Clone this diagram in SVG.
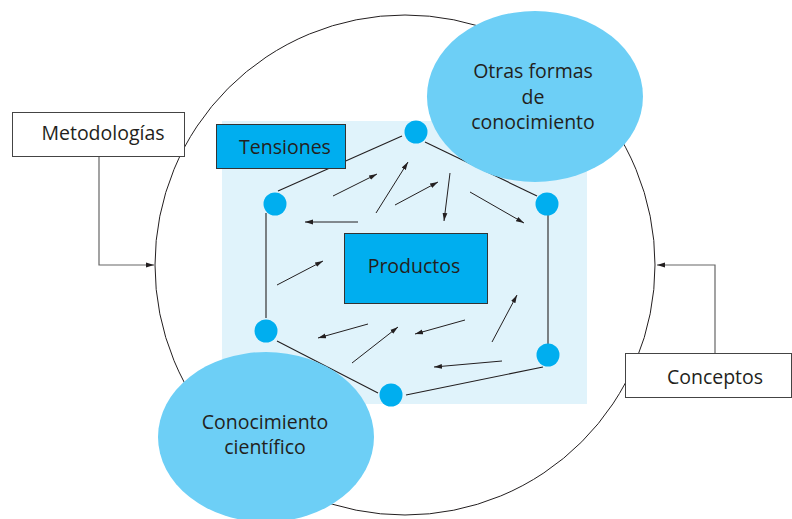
<svg xmlns="http://www.w3.org/2000/svg" width="792" height="519" viewBox="0 0 792 519">
<defs>
<marker id="ah" markerWidth="8" markerHeight="6" refX="8" refY="3" orient="auto" markerUnits="userSpaceOnUse">
<path d="M0,0.6 L8,3 L0,5.4 Z" fill="#231F20"/>
</marker>
</defs>
<style>
text{font-family:"Open Sans","Liberation Sans",sans-serif;font-size:19.5px;fill:#231F20;text-anchor:middle}
.box{fill:#fff;stroke:#444;stroke-width:1}
.bbox{fill:#00AEEF;stroke:#333;stroke-width:1}
.node{fill:#00AEEF}
.ell{fill:#6DCFF6}
.edge{stroke:#231F20;stroke-width:1.1;fill:none}
.arr{stroke:#231F20;stroke-width:1;fill:none;marker-end:url(#ah)}
.conn{stroke:#666;stroke-width:1.2;fill:none;marker-end:url(#ah)}
</style>
<rect width="792" height="519" fill="#fff"/>
<circle cx="405" cy="265" r="250" fill="none" stroke="#231F20" stroke-width="1"/>
<rect x="222" y="121" width="365" height="283" fill="#E0F3FB"/>
<g id="connectors">
<line class="edge" x1="278" y1="191" x2="402" y2="136"/>
<line class="edge" x1="425" y1="142" x2="537" y2="196"/>
<line class="edge" x1="266" y1="213" x2="266" y2="318"/>
<line class="edge" x1="548" y1="214" x2="548" y2="344"/>
<line class="edge" x1="277" y1="341" x2="378" y2="393"/>
<line class="edge" x1="406" y1="395" x2="543" y2="367"/>
<line class="arr" x1="333" y1="196" x2="377" y2="174"/>
<line class="arr" x1="376" y1="213" x2="408" y2="162"/>
<line class="arr" x1="395" y1="205" x2="438" y2="182"/>
<line class="arr" x1="450" y1="173" x2="444" y2="221"/>
<line class="arr" x1="470" y1="192" x2="524" y2="223"/>
<line class="arr" x1="358" y1="222" x2="305" y2="222"/>
<line class="arr" x1="277" y1="285" x2="323" y2="261"/>
<line class="arr" x1="368" y1="324" x2="318" y2="338"/>
<line class="arr" x1="352" y1="363" x2="398" y2="327"/>
<line class="arr" x1="465" y1="320" x2="415" y2="334"/>
<line class="arr" x1="492" y1="342" x2="517" y2="295"/>
<line class="arr" x1="502" y1="361" x2="434" y2="367"/>
<polyline class="conn" points="99,156 99,265 154,265"/>
<polyline class="conn" points="715,353 715,265 657,265"/>
</g>
<g id="otras"><ellipse class="ell" cx="535" cy="96.5" rx="108" ry="85.5"/>
<text x="533" y="78">Otras formas</text><text x="533" y="104">de</text><text x="533" y="129">conocimiento</text></g>
<g id="cientifico"><ellipse class="ell" cx="266" cy="437" rx="108" ry="85"/>
<text x="265" y="429">Conocimiento</text><text x="265" y="454">científico</text></g>
<g id="tensiones"><rect class="bbox" x="216.5" y="124.5" width="129" height="44"/><text x="285" y="154">Tensiones</text></g>
<g id="productos"><rect class="bbox" x="344.5" y="233.5" width="143" height="70"/><text x="414" y="273">Productos</text></g>
<g id="metodologias"><rect class="box" x="12.5" y="112.5" width="172" height="44"/><text x="103" y="140">Metodologías</text></g>
<g id="conceptos"><rect class="box" x="625.5" y="353.5" width="166" height="44"/><text x="715" y="384">Conceptos</text></g>
<g id="n1"><circle class="node" cx="416" cy="132" r="11.5"/></g>
<g id="n2"><circle class="node" cx="275" cy="204" r="11.5"/></g>
<g id="n3"><circle class="node" cx="547" cy="204" r="11.5"/></g>
<g id="n4"><circle class="node" cx="266" cy="331" r="11.5"/></g>
<g id="n5"><circle class="node" cx="391" cy="395" r="11.5"/></g>
<g id="n6"><circle class="node" cx="548" cy="355" r="11.5"/></g>
</svg>
